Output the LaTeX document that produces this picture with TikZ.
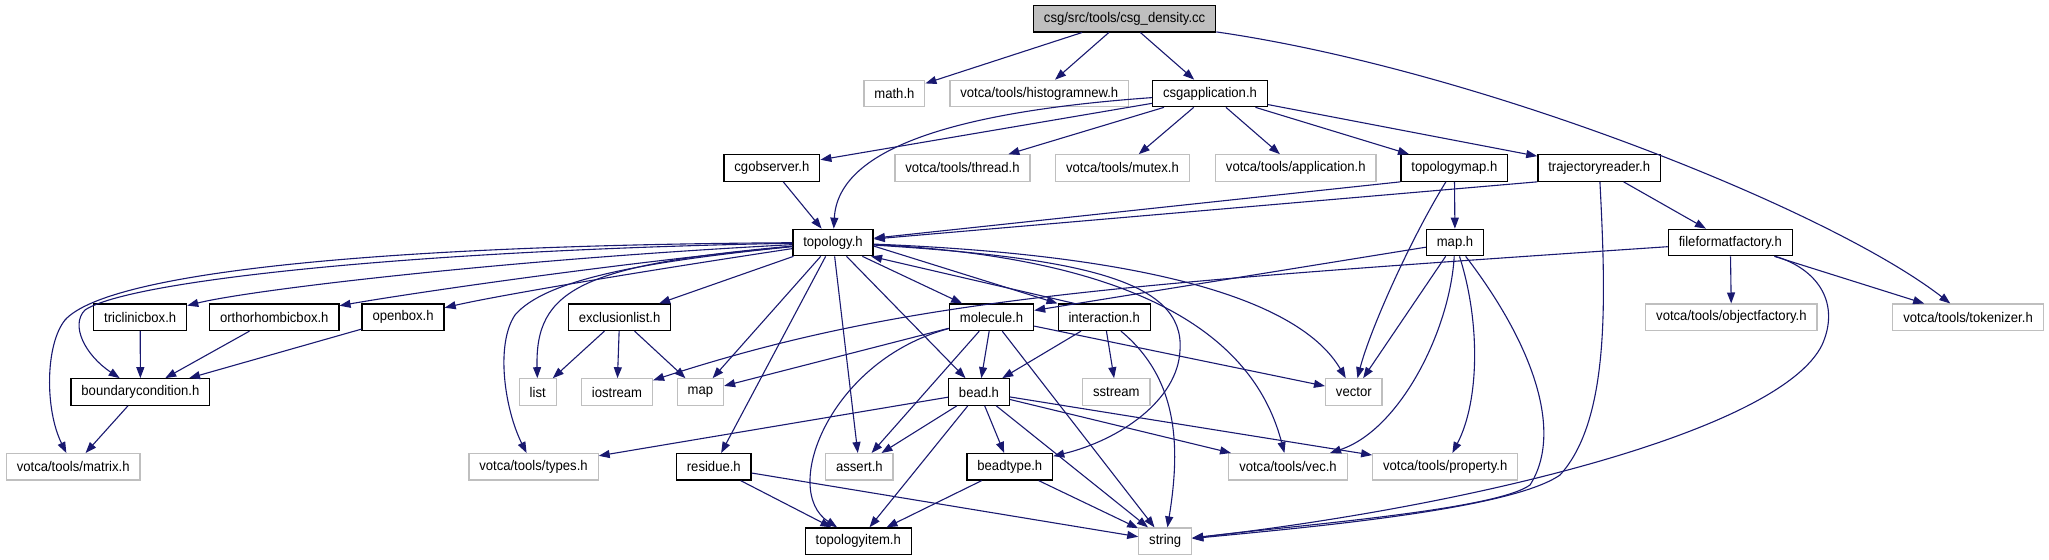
\documentclass[tikz,border=0pt]{standalone}
\usepackage{fontspec}
\setmainfont{Liberation Sans}[FakeStretch=0.935]
\usetikzlibrary{arrows.meta}
\definecolor{edgeblue}{HTML}{191970}
\definecolor{boxgray}{HTML}{BFBFBF}

\begin{document}
\begin{tikzpicture}[x=0.5pt,y=-0.5pt,
  font=\fontsize{7}{8}\selectfont,
  hdrbox/.style={draw=black,line width=0.65pt,fill=white,inner xsep=5.2pt,inner ysep=0pt,minimum height=13.2pt},
  extbox/.style={hdrbox,draw=boxgray,line width=0.6pt},
  srcbox/.style={hdrbox,fill=boxgray},
  incl/.style={draw=edgeblue,line width=0.55pt,-{Triangle[length=5.5pt,width=4pt]}}]
\useasboundingbox (0,0) rectangle (2049,560);

% Source file
\node[srcbox] (root) at (1124.6,18.7) {csg/src/tools/csg\_density.cc};

% Headers
\node[extbox] (mathh) at (894.4,93.5) {math.h};
\node[extbox] (histo) at (1039.3,93.5) {votca/tools/histogramnew.h};
\node[hdrbox] (csgapp) at (1210,93.5) {csgapplication.h};

\node[hdrbox] (cgobs) at (771.9,168) {cgobserver.h};
\node[extbox] (thread) at (962.5,168) {votca/tools/thread.h};
\node[extbox] (mutex) at (1122.5,168) {votca/tools/mutex.h};
\node[extbox] (appl) at (1295.8,168) {votca/tools/application.h};
\node[hdrbox] (topomap) at (1454.4,168) {topologymap.h};
\node[hdrbox] (trajrd) at (1599.2,168) {trajectoryreader.h};

\node[hdrbox] (topo) at (833,242.5) {topology.h};
\node[hdrbox] (maph) at (1455,242.5) {map.h};
\node[hdrbox] (fff) at (1730.3,242.5) {fileformatfactory.h};

\node[hdrbox] (tricl) at (140.2,317.3) {triclinicbox.h};
\node[hdrbox] (ortho) at (274.3,317.3) {orthorhombicbox.h};
\node[hdrbox] (openb) at (403.1,317.3) {openbox.h};
\node[hdrbox] (excl) at (619.6,317.3) {exclusionlist.h};
\node[hdrbox] (molec) at (991.5,317.3) {molecule.h};
\node[hdrbox] (inter) at (1104.2,317.3) {interaction.h};
\node[extbox] (objf) at (1731.4,317.3) {votca/tools/objectfactory.h};
\node[extbox] (tokn) at (1968,317.3) {votca/tools/tokenizer.h};

\node[hdrbox] (bcond) at (140.4,392) {boundarycondition.h};
\node[extbox] (lst) at (537.7,392) {list};
\node[extbox] (iostr) at (617,392) {iostream};
\node[extbox] (stdmap) at (700.4,392) {map};
\node[hdrbox] (bead) at (979,392) {bead.h};
\node[extbox] (sstr) at (1116.3,392) {sstream};
\node[extbox] (vect) at (1353.8,392) {vector};

\node[extbox] (matrix) at (73.2,466.8) {votca/tools/matrix.h};
\node[extbox] (types) at (533.5,466.8) {votca/tools/types.h};
\node[hdrbox] (resid) at (713.8,466.8) {residue.h};
\node[extbox] (asrt) at (859.4,466.8) {assert.h};
\node[hdrbox] (btype) at (1009.8,466.8) {beadtype.h};
\node[extbox] (vec) at (1288,466.8) {votca/tools/vec.h};
\node[extbox] (prop) at (1445.2,466.8) {votca/tools/property.h};

\node[hdrbox] (titem) at (858.3,541.2) {topologyitem.h};
\node[extbox] (strg) at (1165.2,541.2) {string};

% csg_density.cc
\draw[incl] (root) -- (mathh);
\draw[incl] (root) -- (histo);
\draw[incl] (root) -- (csgapp);
\draw[incl] (root) .. controls (1480,70) and (1830,210) .. (tokn);

% csgapplication.h
\draw[incl] (csgapp) .. controls (950,112) and (838,150) .. (topo);
\draw[incl] (csgapp) -- (cgobs);
\draw[incl] (csgapp) -- (thread);
\draw[incl] (csgapp) -- (mutex);
\draw[incl] (csgapp) -- (appl);
\draw[incl] (csgapp) -- (topomap);
\draw[incl] (csgapp) -- (trajrd);

% observer, map and reader
\draw[incl] (cgobs) -- (topo);
\draw[incl] (topomap.south west) -- (topo);
\draw[incl] (topomap) -- (maph);
\draw[incl] (topomap) .. controls (1410,240) and (1370,330) .. (vect);
\draw[incl] (trajrd.south west) -- (topo);
\draw[incl] (trajrd) -- (fff);
\draw[incl] (trajrd) .. controls (1606,300) and (1610,420) .. (1560,475) .. controls (1510,510) and (1300,528) .. (strg);

\draw[incl] (maph) -- (molec);
\draw[incl] (maph) -- (vect);
\draw[incl] (maph) .. controls (1450,330) and (1400,430) .. (vec);
\draw[incl] (maph) .. controls (1480,320) and (1480,400) .. (prop);
\draw[incl] (maph) .. controls (1530,340) and (1565,430) .. (1530,485) .. controls (1495,510) and (1300,525) .. (strg);

\draw[incl] (fff) .. controls (1100,285) and (900,300) .. (iostr);
\draw[incl] (fff) -- (objf);
\draw[incl] (fff) -- (tokn);
\draw[incl] (fff) .. controls (1820,270) and (1840,305) .. (1822,345) .. controls (1780,430) and (1480,505) .. (strg);

% topology.h
\draw[incl] (topo) .. controls (500,260) and (250,290) .. (tricl);
\draw[incl] (topo) .. controls (600,265) and (400,295) .. (ortho);
\draw[incl] (topo) .. controls (650,270) and (500,295) .. (openb);
\draw[incl] (topo) .. controls (420,250) and (130,280) .. (85,310) .. controls (70,325) and (85,355) .. (bcond);
\draw[incl] (topo) .. controls (400,245) and (110,270) .. (65,320) .. controls (45,345) and (45,410) .. (matrix);
\draw[incl] (topo) .. controls (640,262) and (545,280) .. (515,315) .. controls (495,345) and (505,410) .. (types);
\draw[incl] (topo) .. controls (580,265) and (535,290) .. (lst);
\draw[incl] (topo) -- (excl);
\draw[incl] (topo) -- (stdmap);
\draw[incl] (topo) -- (resid);
\draw[incl] (topo) -- (asrt);
\draw[incl] (topo) -- (bead);
\draw[incl] (topo) -- (molec);
\draw[incl] (topo.-5) -- (inter.north west);
\draw[incl] (topo) .. controls (1080,258) and (1185,280) .. (1180,350) .. controls (1178,400) and (1120,440) .. (btype);
\draw[incl] (topo) .. controls (1180,260) and (1260,360) .. (vec);
\draw[incl] (topo) .. controls (1150,255) and (1300,300) .. (vect);

% interaction.h
\draw[incl] (inter.155) -- (topo.-20);
\draw[incl] (inter) -- (bead);
\draw[incl] (inter) -- (sstr);
\draw[incl] (inter) .. controls (1180,380) and (1180,450) .. (strg);

% molecule.h
\draw[incl] (molec) -- (stdmap);
\draw[incl] (molec) -- (vect);
\draw[incl] (molec) -- (bead);
\draw[incl] (molec) -- (asrt);
\draw[incl] (molec) .. controls (830,360) and (780,490) .. (titem);
\draw[incl] (molec) -- (strg);

% bead.h
\draw[incl] (bead) -- (types);
\draw[incl] (bead) -- (asrt);
\draw[incl] (bead) -- (titem);
\draw[incl] (bead) -- (btype);
\draw[incl] (bead) -- (strg);
\draw[incl] (bead) -- (vec);
\draw[incl] (bead) -- (prop);

% beadtype.h, residue.h
\draw[incl] (btype) -- (titem);
\draw[incl] (btype) -- (strg);
\draw[incl] (resid) -- (titem);
\draw[incl] (resid) -- (strg);

% exclusionlist.h and boxes
\draw[incl] (excl) -- (lst);
\draw[incl] (excl) -- (iostr);
\draw[incl] (excl) -- (stdmap);
\draw[incl] (tricl) -- (bcond);
\draw[incl] (ortho) -- (bcond);
\draw[incl] (openb) -- (bcond);
\draw[incl] (bcond) -- (matrix);
\end{tikzpicture}
\end{document}
